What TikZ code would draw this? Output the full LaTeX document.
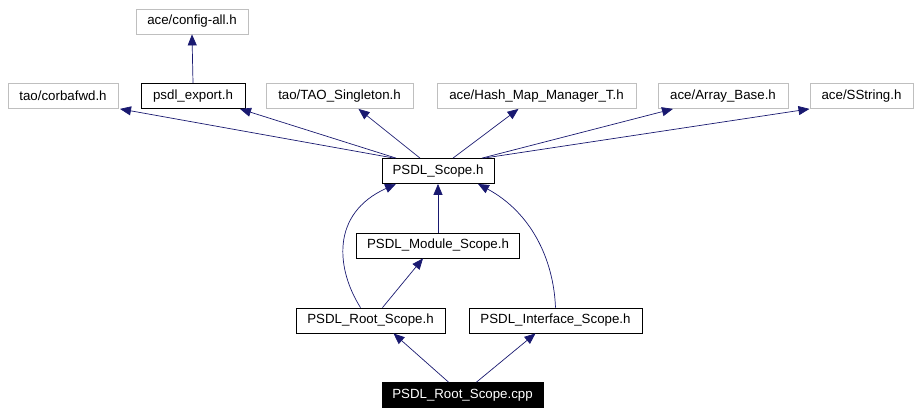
\documentclass[tikz,border=0pt]{standalone}
\usepackage{fontspec}
\setmainfont{Liberation Sans}
\usetikzlibrary{arrows.meta}
\definecolor{edgeblue}{HTML}{191970}
\definecolor{boxgray}{HTML}{BFBFBF}
\tikzset{
  box/.style={draw=black, line width=0.8pt, minimum height=25pt, inner sep=0pt, font=\fontsize{13.3}{15}\selectfont, anchor=center},
  graybox/.style={box, draw=boxgray},
  mainbox/.style={box, fill=black, text=white},
  dep/.style={draw=edgeblue, line width=0.7pt, -{Triangle[length=11pt,width=9pt]}},
}
\begin{document}
\begin{tikzpicture}[x=1pt,y=-1pt]
\useasboundingbox (0,0) rectangle (919,415);
\node[graybox, minimum width=112pt] (cfg) at (192,21.5) {ace/config-all.h};
\node[graybox, minimum width=110pt] (corba) at (63,96) {tao/corbafwd.h};
\node[box, minimum width=104pt] (exp) at (193,96) {psdl\_export.h};
\node[graybox, minimum width=147pt] (tao) at (339.5,96) {tao/TAO\_Singleton.h};
\node[graybox, minimum width=199pt] (hash) at (536.5,96) {ace/Hash\_Map\_Manager\_T.h};
\node[graybox, minimum width=130pt] (arr) at (723,96) {ace/Array\_Base.h};
\node[graybox, minimum width=103pt] (sstr) at (861.5,96) {ace/SString.h};
\node[box, minimum width=112pt] (scope) at (438,171) {PSDL\_Scope.h};
\node[box, minimum width=163pt] (mod) at (438,245.5) {PSDL\_Module\_Scope.h};
\node[box, minimum width=149pt] (root) at (370.5,320.5) {PSDL\_Root\_Scope.h};
\node[box, minimum width=173pt] (iface) at (555.5,320.5) {PSDL\_Interface\_Scope.h};
\node[mainbox, minimum width=161pt] (cpp) at (462.5,395) {PSDL\_Root\_Scope.cpp};

\draw[dep] (exp.north) -- (cfg.south);
\draw[dep] ([xshift=-44pt]scope.north) -- ([xshift=57pt]corba.south);
\draw[dep] ([xshift=-42pt]scope.north) -- ([xshift=47pt]exp.south);
\draw[dep] ([xshift=-18pt]scope.north) -- ([xshift=19pt]tao.south);
\draw[dep] ([xshift=15pt]scope.north) -- ([xshift=-18pt]hash.south);
\draw[dep] ([xshift=44pt]scope.north) -- ([xshift=-50pt]arr.south);
\draw[dep] ([xshift=46pt]scope.north) -- ([xshift=-52pt]sstr.south);
\draw[dep] (mod.north) -- (scope.south);
\draw[dep] ([xshift=12pt]root.north) -- ([xshift=-15pt]mod.south);
\draw[dep] ([xshift=-10pt]root.north) .. controls ([xshift=-34pt,yshift=38pt]root.north) and ([xshift=-108pt,yshift=-30pt]scope.south) .. ([xshift=-42pt]scope.south);
\draw[dep] ([xshift=0pt]iface.north) .. controls ([xshift=-2pt,yshift=50pt]iface.north) and ([xshift=92pt,yshift=-28pt]scope.south) .. ([xshift=40pt]scope.south);
\draw[dep] ([xshift=-14pt]cpp.north) -- ([xshift=23pt]root.south);
\draw[dep] ([xshift=14pt]cpp.north) -- ([xshift=-20pt]iface.south);
\end{tikzpicture}
\end{document}
